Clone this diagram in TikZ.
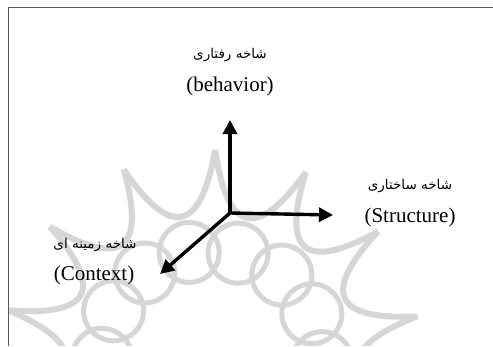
\documentclass[tikz,border=0pt]{standalone}
\usepackage{fontspec}
\setmainfont{Liberation Serif}
\newfontfamily\arabicfont[Script=Arabic]{DejaVu Sans}
\TeXXeTstate=1
\usetikzlibrary{arrows.meta}
\definecolor{wmgray}{RGB}{214,214,214}
\definecolor{framegray}{RGB}{90,90,90}
\tikzset{
  axis/.style={line width=3.4pt, -{Triangle[length=14pt,width=14pt]}},
  fa/.style={font=\arabicfont\fontsize{13.5}{15}\selectfont, inner sep=0pt},
  en/.style={font=\fontsize{21}{24}\selectfont, inner sep=0pt}
}

\begin{document}
\begin{tikzpicture}[x=1pt,y=-1pt]
\useasboundingbox (0,0) rectangle (493,346);
\fill [white] (0,0) rectangle (493,346);

% watermark
\begin{scope}
\clip (9,8) rectangle (492,345);
\foreach \a in {12,37.714,...,352} {
  \draw [wmgray, line width=6pt]
    ({212+210*cos(\a)},{360-210*sin(\a)})
    .. controls ({212+128*cos(\a+6)},{360-128*sin(\a+6)}) and ({212+128*cos(\a+19.7)},{360-128*sin(\a+19.7)})
    .. ({212+210*cos(\a+25.714)},{360-210*sin(\a+25.714)});
  \draw [wmgray, line width=5pt] ({212+110*cos(\a+12.857)},{360-110*sin(\a+12.857)}) circle (30);
}
\end{scope}

\draw [framegray, line width=0.8pt] (8,346) -- (8,7) -- (493,7);

% axes
\coordinate (o) at (230,213);
\coordinate (b) at (230,120);
\coordinate (s) at (333,215);
\coordinate (c) at (160,274);
\draw [axis] (o) -- (b);
\draw [axis] (o) -- (s);
\draw [axis] (o) -- (c);

% labels
\node [fa] (bfa) at (230,55) {\beginR شاخه رفتاری\endR};
\node [en] (ben) at (230,86) {(behavior)};
\node [fa] (sfa) at (410,186) {\beginR شاخه ساختاری\endR};
\node [en] (sen) at (410,217) {(Structure)};
\node [fa] (cfa) at (95,245) {\beginR شاخه زمینه ای\endR};
\node [en] (cen) at (94,275) {(Context)};
\end{tikzpicture}
\end{document}
